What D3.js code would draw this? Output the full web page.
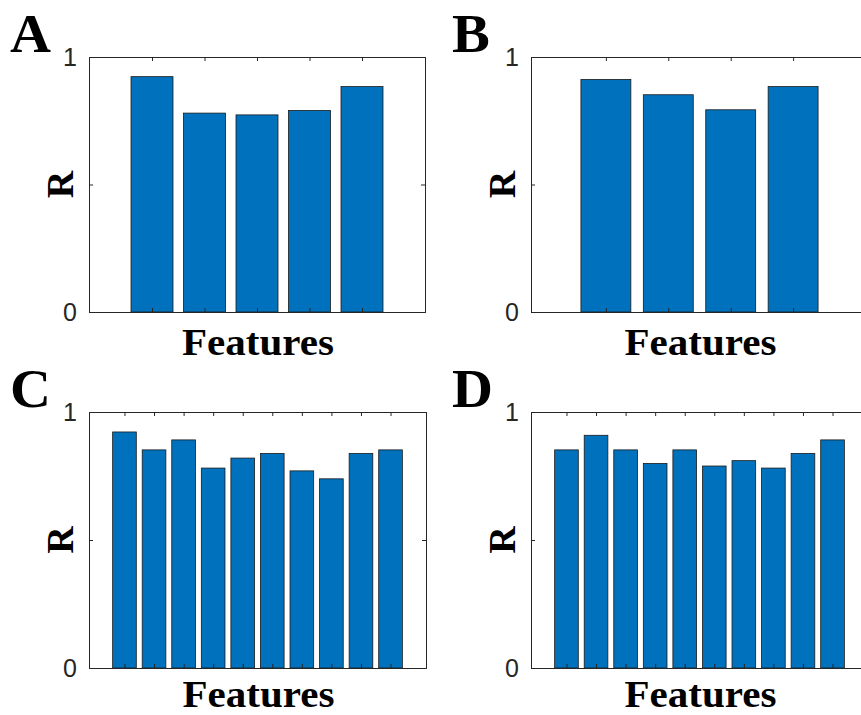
<!DOCTYPE html>
<html lang="en">
<head>
  <meta charset="UTF-8">
  <title>R by features</title>
  <style>
    body { margin: 0; background: #fff; }
    .panel-letter { font-family: "Liberation Serif", "Times New Roman", serif; font-weight: bold; font-size: 54px; }
    .axis-title { font-family: "Liberation Serif", "Times New Roman", serif; font-weight: bold; font-size: 38px; }
    .tick text { font-family: "Liberation Sans", Arial, sans-serif; font-size: 25px; fill: #262626; }
  </style>
</head>
<body>
  <div id="chart"></div>
  <script src="https://d3js.org/d3.v7.min.js"></script>
  <script>
    const width = 861, height = 715;

    // values
    const valuesA = [0.923, 0.780, 0.773, 0.790, 0.884];
    const valuesB = [0.912, 0.852, 0.793, 0.884];
    const valuesC = [0.922, 0.852, 0.891, 0.781, 0.820, 0.838, 0.770, 0.739, 0.838, 0.852];
    const valuesD = [0.852, 0.909, 0.852, 0.799, 0.852, 0.789, 0.810, 0.781, 0.838, 0.891];
    const yTicks = [0, 0.5, 1];
    const yTickLabels = {0: "0", 1: "1"};

    const panels = [
      {label: "A", values: valuesA, box: [89, 57, 425, 312], titleDy: 43},
      {label: "B", values: valuesB, box: [531, 57, 868, 312], titleDy: 43},
      {label: "C", values: valuesC, box: [89, 412, 426, 668], titleDy: 39},
      {label: "D", values: valuesD, box: [531, 412, 868, 668], titleDy: 39}
    ];

    const svg = d3.select("#chart").append("svg")
      .attr("width", width)
      .attr("height", height);

    panels.forEach(p => {
      const [x0, y0, x1, y1] = p.box;
      const n = p.values.length;
      const x = d3.scaleLinear().domain([-0.2, n + 1.2]).range([x0, x1]);
      const y = d3.scaleLinear().domain([0, 1]).range([y1, y0]);
      const idx = d3.range(1, n + 1);
      const bw = (x(1) - x(0)) * 0.8;

      const g = svg.append("g");

      g.selectAll("rect.bar")
        .data(p.values)
        .enter().append("rect")
        .attr("class", "bar")
        .attr("x", (d, i) => x(i + 1) - bw / 2)
        .attr("y", d => y(d))
        .attr("width", bw)
        .attr("height", d => y(0) - y(d))
        .attr("fill", "#0072BD")
        .attr("stroke", "#1a1a1a")
        .attr("stroke-width", 0.8);

      // axes, ticks point inward like matlab
      const axes = [
        g.append("g").attr("transform", `translate(0,${y1})`)
          .call(d3.axisBottom(x).tickValues(idx).tickSize(-4).tickFormat("")),
        g.append("g").attr("transform", `translate(0,${y0})`)
          .call(d3.axisTop(x).tickValues(idx).tickSize(-4).tickFormat("")),
        g.append("g").attr("transform", `translate(${x0},0)`)
          .call(d3.axisLeft(y).tickValues(yTicks).tickSize(-4).tickPadding(12)
            .tickFormat(d => yTickLabels[d] || "")),
        g.append("g").attr("transform", `translate(${x1},0)`)
          .call(d3.axisRight(y).tickValues(yTicks).tickSize(-4).tickFormat(""))
      ];
      axes.forEach(a => {
        a.selectAll("path.domain").attr("stroke", "#262626").attr("stroke-width", 1);
        a.selectAll(".tick line").attr("stroke", "#262626");
      });

      g.append("text")
        .attr("class", "axis-title")
        .attr("transform", `translate(${x0 - 16},${(y0 + y1) / 2}) rotate(-90)`)
        .attr("text-anchor", "middle")
        .text("R");

      // the original is a bit wider than the font, stretch it slightly
      g.append("text")
        .attr("class", "axis-title")
        .attr("transform", `translate(${(x0 + x1) / 2 + 1},${y1 + p.titleDy}) scale(1.08,1)`)
        .attr("text-anchor", "middle")
        .text("Features");

      g.append("text")
        .attr("class", "panel-letter")
        .attr("transform", `translate(${x0 - 79},${y0 - 5}) scale(1.05,1)`)
        .text(p.label);
    });
  </script>
</body>
</html>
